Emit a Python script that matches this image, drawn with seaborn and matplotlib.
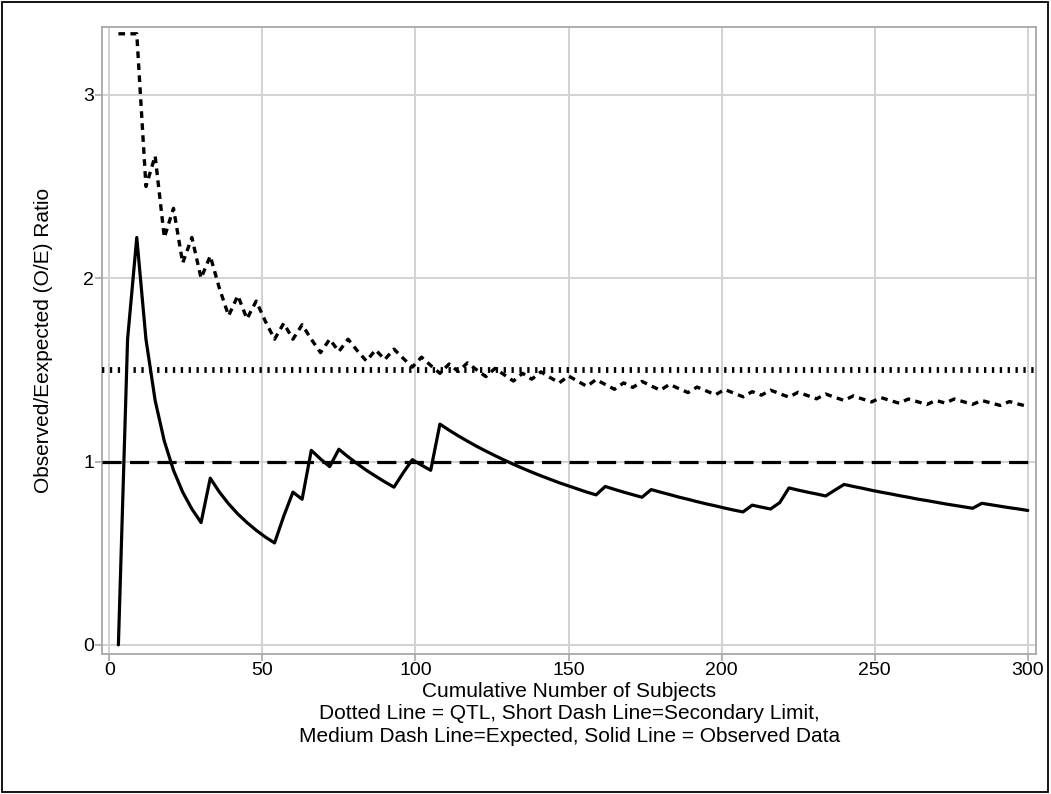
import matplotlib
matplotlib.use("Agg")
import matplotlib.pyplot as plt
import seaborn as sns
import pandas as pd
from matplotlib.patches import Rectangle

# ---- data ----
subjects = list(range(3, 301, 3))

observed = [
    0.0, 1.667, 2.222, 1.667, 1.333, 1.111, 0.952, 0.833, 0.741, 0.667,
    0.909, 0.833, 0.769, 0.714, 0.667, 0.625, 0.588, 0.556, 0.702, 0.833,
    0.794, 1.061, 1.014, 0.972, 1.067, 1.026, 0.988, 0.952, 0.920, 0.889,
    0.860, 0.938, 1.010, 0.980, 0.952, 1.204, 1.171, 1.140, 1.111, 1.083,
    1.057, 1.032, 1.008, 0.985, 0.963, 0.942, 0.922, 0.903, 0.884, 0.867,
    0.850, 0.833, 0.818, 0.864, 0.848, 0.833, 0.819, 0.805, 0.847, 0.833,
    0.820, 0.806, 0.794, 0.781, 0.769, 0.758, 0.746, 0.735, 0.725, 0.762,
    0.751, 0.741, 0.776, 0.856, 0.844, 0.833, 0.823, 0.812, 0.844, 0.875,
    0.864, 0.854, 0.843, 0.833, 0.824, 0.814, 0.805, 0.795, 0.787, 0.778,
    0.769, 0.761, 0.753, 0.745, 0.772, 0.764, 0.756, 0.748, 0.741, 0.733,
]

secondary_limit = [
    3.333, 3.333, 3.333, 2.500, 2.667, 2.222, 2.381, 2.083, 2.222, 2.000,
    2.121, 1.944, 1.795, 1.905, 1.778, 1.875, 1.765, 1.667, 1.754, 1.667,
    1.746, 1.667, 1.594, 1.667, 1.600, 1.667, 1.605, 1.548, 1.609, 1.556,
    1.613, 1.563, 1.515, 1.569, 1.524, 1.481, 1.532, 1.491, 1.538, 1.500,
    1.463, 1.508, 1.473, 1.439, 1.481, 1.449, 1.489, 1.458, 1.429, 1.467,
    1.438, 1.410, 1.447, 1.420, 1.394, 1.429, 1.404, 1.437, 1.412, 1.389,
    1.421, 1.398, 1.376, 1.406, 1.385, 1.364, 1.393, 1.373, 1.353, 1.381,
    1.362, 1.389, 1.370, 1.351, 1.378, 1.360, 1.342, 1.368, 1.350, 1.333,
    1.358, 1.341, 1.325, 1.349, 1.333, 1.318, 1.341, 1.326, 1.311, 1.333,
    1.319, 1.341, 1.326, 1.312, 1.333, 1.319, 1.306, 1.327, 1.313, 1.300,
]

qtl_level = 1.5
expected_level = 1.0

x_ticks = [0, 50, 100, 150, 200, 250, 300]
y_ticks = [0, 1, 2, 3]

x_label = ("Cumulative Number of Subjects\n"
           "Dotted Line = QTL, Short Dash Line=Secondary Limit,\n"
           "Medium Dash Line=Expected, Solid Line = Observed Data")
y_label = "Observed/Eexpected (O/E) Ratio"

# ---- plotting ----
sns.set_theme(style="white")
plt.rcParams['font.family'] = ['Liberation Sans', 'DejaVu Sans']

df = pd.DataFrame({"n": subjects, "observed": observed, "secondary": secondary_limit})

fig = plt.figure(figsize=(10.51, 7.94), dpi=100)
ax = fig.add_axes([0.0975, 0.1763, 0.888, 0.7897])

grid_col = "#d2d2d2"
ax.grid(True, color=grid_col, linewidth=1.4)
ax.set_axisbelow(True)

ax.axhline(qtl_level, color="black", linewidth=4.2,
           linestyle=(0, (0.4, 0.95)), zorder=3)
ax.axhline(expected_level, color="black", linewidth=2.3,
           linestyle=(0, (6.0, 2.6)), zorder=3)

sns.lineplot(data=df, x="n", y="secondary", ax=ax, color="black",
             linewidth=2.4, linestyle=(0, (2.0, 1.6)), errorbar=None, zorder=4)
sns.lineplot(data=df, x="n", y="observed", ax=ax, color="black",
             linewidth=2.3, errorbar=None, zorder=5)

ax.set_xlim(-2.2, 302.6)
ax.set_ylim(-0.05, 3.37)
ax.set_xticks(x_ticks)
ax.set_yticks(y_ticks)

for sp in ax.spines.values():
    sp.set_color("#a8a8a8")
    sp.set_linewidth(1.3)

ax.tick_params(axis="both", which="both", bottom=True, left=True,
               direction="out", length=5, width=1.2, color="#a8a8a8",
               labelsize=14, labelcolor="black", pad=1)

ax.set_xlabel(x_label, fontsize=15, linespacing=1.22, labelpad=2, color="black")
ax.set_ylabel(y_label, fontsize=15, labelpad=22, color="black")

fig.patches.append(Rectangle((0.0015, 0.002), 0.996, 0.995,
                             transform=fig.transFigure, fill=False,
                             edgecolor="black", linewidth=1.3))

fig.savefig("out.png", dpi=100)
